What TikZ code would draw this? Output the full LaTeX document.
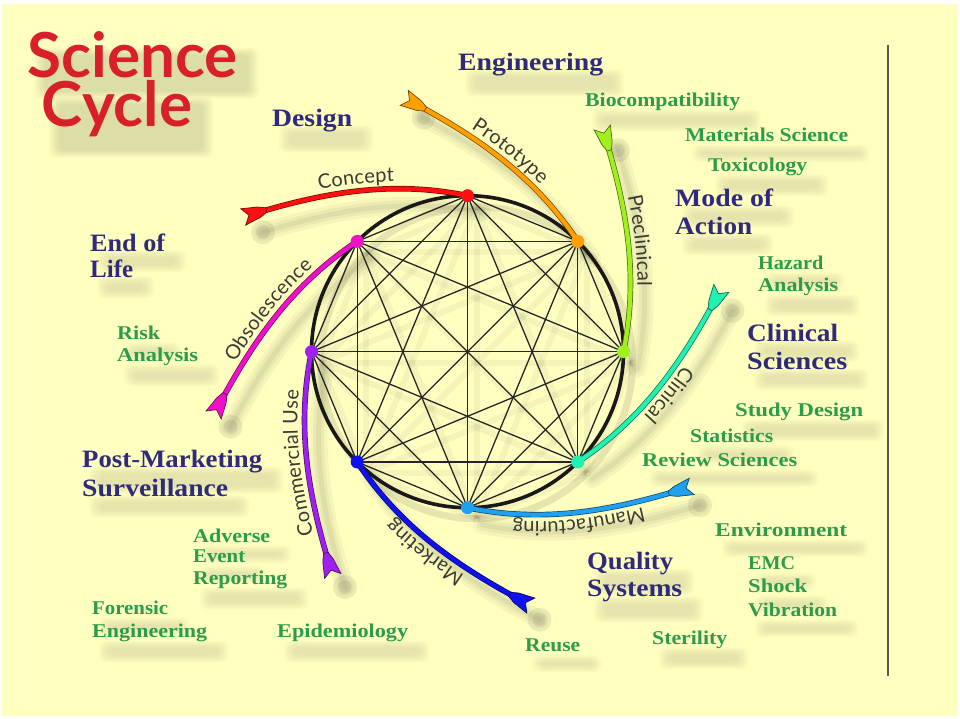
\documentclass[tikz,border=0pt]{standalone}
\usepackage{fontspec}
\usepackage{graphicx}
\usetikzlibrary{decorations.text,decorations.markings}
\setmainfont{Liberation Serif}
\newfontfamily\arcfamily{Lato}
\newfontfamily\headfamily{Lato}

\definecolor{paper}{HTML}{FFFFC0}
\definecolor{navyink}{HTML}{2F2A7C}
\definecolor{greenink}{HTML}{2C9C4A}
\definecolor{arcink}{HTML}{3A3A34}
\definecolor{smoke}{HTML}{4A4A3A}
\definecolor{titlered}{HTML}{D8202A}
\definecolor{rulegrey}{HTML}{5A5A50}
\definecolor{cred}{HTML}{FF1010}
\definecolor{corange}{HTML}{FFA000}
\definecolor{cgreen}{HTML}{A0F020}
\definecolor{cteal}{HTML}{20F0B0}
\definecolor{clight}{HTML}{20A0F0}
\definecolor{cblue}{HTML}{1010F0}
\definecolor{cpurple}{HTML}{A020F0}
\definecolor{cmagenta}{HTML}{F010C8}

\newcommand\arcfont{\arcfamily\fontsize{20}{20}\selectfont}

\pgfdeclarelayer{paperlayer}
\pgfdeclarelayer{shade}
\pgfdeclarelayer{wheel}
\pgfsetlayers{paperlayer,shade,wheel,main}

\tikzset{
  navylbl/.style={font=\bfseries\fontsize{25}{25}\selectfont, text=navyink, inner sep=0pt, anchor=base west},
  greenlbl/.style={font=\bfseries\fontsize{19.5}{19.5}\selectfont, text=greenink, inner sep=0pt, anchor=base west},
  titlelbl/.style={font=\headfamily\bfseries\fontsize{62}{62}\selectfont, text=titlered, inner sep=0pt, anchor=base},
  dotnode/.style={circle, inner sep=0pt, minimum size=13pt},
  chord/.style={line width=1.3pt, black!85},
  rim/.style={line width=3.6pt, black!90},
  tail/.style={postaction={decorate, decoration={markings, mark=at position 1 with {
    \fill[#1, draw=#1!45!black, line width=0.7pt]
      (-18,2.3) .. controls (-14,3.6) and (-11,5.8) .. (-7,6)
      -- (6,8.5) -- (0,0) -- (6,-8.5) -- (-7,-6)
      .. controls (-11,-5.8) and (-14,-3.6) .. (-18,-2.3) -- cycle;}}}},
  arclabel/.style={decorate, decoration={text along path, text={|\arcfont|#1},
    text align=center, raise=7pt, text color=arcink}},
}

% soft grey smudge below and right of a node
\newcommand\smudge[2]{% #1 node, #2 strength
  \begin{pgfonlayer}{shade}
    \foreach \g in {-3,-1,1,3,5,7}
      \fill[smoke, opacity=#2, rounded corners=7pt]
        ([shift={(14-\g,-15-0.7*\g)}]#1.south west) rectangle ([shift={(14+\g,-21+0.7*\g)}]#1.north east);
  \end{pgfonlayer}
}

% a label line; #3,#4 = left end and baseline (measured from the top)
\newcommand\shadowed[6]{%
  \node[#2] (#1) at (#3, 719-#4) {\resizebox{#5pt}{\height}{#6}};
  \smudge{#1}{0.022}
}

\begin{document}
\begin{tikzpicture}[x=1pt, y=1pt]
\useasboundingbox (0,0) rectangle (960,719);
\begin{pgfonlayer}{paperlayer}
  \fill[white] (0,0) rectangle (960,719);
  \fill[paper] (2,3) rectangle (958,715);
\end{pgfonlayer}

% right-hand rule
\draw[rulegrey, line width=1.4pt] (888,674) -- (888,43);

% title
\node[titlelbl] (science) at (132.5,641) {\resizebox{210pt}{\height}{Science}};
\node[titlelbl] (cycle) at (117,592) {\resizebox{150pt}{\height}{Cycle}};
\smudge{science}{0.03}
\smudge{cycle}{0.03}

% the eight stages on the wheel
\coordinate (hub) at (467.5,367.3);
\foreach \k/\a/\c in {1/90/cred,2/45/corange,3/0/cgreen,4/-45/cteal,5/-90/clight,6/-135/cblue,7/180/cpurple,8/135/cmagenta}{
  \begin{scope}[shift={(467.5,367.3)}, rotate=\a]
    \node[dotnode, fill=\c] (d\k) at (156,0) {};
    \coordinate (a\k) at (172,78);
    \coordinate (b\k) at (158.4,146.8);
    \coordinate (e\k) at (136.5,218.5);
  \end{scope}
}

% shadows of wheel and arms
\begin{pgfonlayer}{shade}
  \begin{scope}[transform canvas={shift={(9pt,-11pt)}}]
    \draw[smoke, opacity=0.14, line width=7pt] (hub) circle[radius=156pt];
    \foreach \i in {1,...,8}{\foreach \j in {1,...,8}{\ifnum\i<\j
      \draw[smoke, opacity=0.06, line width=6pt] (d\i.center) -- (d\j.center);\fi}}
  \end{scope}
  \foreach \k in {1,...,8}{
    \begin{scope}[transform canvas={shift={(14pt,-17pt)}}]
      \draw[smoke, opacity=0.05, line width=18pt, line cap=round] (d\k.center) .. controls (a\k) and (b\k) .. (e\k);
      \draw[smoke, opacity=0.06, line width=11pt, line cap=round] (d\k.center) .. controls (a\k) and (b\k) .. (e\k);
      \draw[smoke, opacity=0.07, line width=5pt, line cap=round] (d\k.center) .. controls (a\k) and (b\k) .. (e\k);
      \fill[smoke, opacity=0.10] (e\k) circle[radius=12pt];
      \fill[smoke, opacity=0.10] (e\k) circle[radius=7pt];
    \end{scope}
  }
\end{pgfonlayer}

% wheel: rim, all chords, coloured arms
\begin{pgfonlayer}{wheel}
  \draw[rim] (hub) circle[radius=156pt];
  \foreach \i in {1,...,8}{\foreach \j in {1,...,8}{\ifnum\i<\j
    \draw[chord] (d\i.center) -- (d\j.center);\fi}}
  \foreach \k/\c in {1/cred,2/corange,3/cgreen,4/cteal,5/clight,6/cblue,7/cpurple,8/cmagenta}{
    \draw[line width=5.6pt, \c!45!black] (d\k.center) .. controls (a\k) and (b\k) .. (e\k);
    \draw[line width=4.2pt, \c, tail=\c] (d\k.center) .. controls (a\k) and (b\k) .. (e\k);
  }
\end{pgfonlayer}

% arm labels
\path[arclabel=Concept] (e1) .. controls (b1) and (a1) .. (d1.center);
\path[arclabel=Prototype] (e2) .. controls (b2) and (a2) .. (d2.center);
\path[arclabel=Preclinical] (e3) .. controls (b3) and (a3) .. (d3.center);
\path[arclabel=Clinical] (e4) .. controls (b4) and (a4) .. (d4.center);
\path[arclabel=Manufacturing] (e5) .. controls (b5) and (a5) .. (d5.center);
\path[arclabel=Marketing] (e6) .. controls (b6) and (a6) .. (d6.center);
\path[arclabel=Commercial Use] (e7) .. controls (b7) and (a7) .. (d7.center);
\path[arclabel=Obsolescence] (e8) .. controls (b8) and (a8) .. (d8.center);

% stage headings
\shadowed{design}{navylbl}{272}{127}{80}{Design}
\shadowed{engineering}{navylbl}{458}{71}{145}{Engineering}
\shadowed{mode}{navylbl}{675}{207}{98}{Mode of}
\shadowed{action}{navylbl}{675}{235}{77}{Action}
\shadowed{endof}{navylbl}{90}{252}{75}{End of}
\shadowed{life}{navylbl}{90}{278}{43}{Life}
\shadowed{clinical}{navylbl}{747}{342}{91}{Clinical}
\shadowed{sciences}{navylbl}{747}{370}{100}{Sciences}
\shadowed{postmkt}{navylbl}{82}{468}{180}{Post-Marketing}
\shadowed{surv}{navylbl}{82}{497}{146}{Surveillance}
\shadowed{quality}{navylbl}{587}{570}{86}{Quality}
\shadowed{systems}{navylbl}{587}{597}{95}{Systems}

% disciplines
\shadowed{biocompat}{greenlbl}{585}{107}{155}{Biocompatibility}
\shadowed{materials}{greenlbl}{685}{142}{163}{Materials Science}
\shadowed{toxicology}{greenlbl}{708}{172}{99}{Toxicology}
\shadowed{hazard}{greenlbl}{758}{270}{65}{Hazard}
\shadowed{hazanalysis}{greenlbl}{758}{292}{80}{Analysis}
\shadowed{studydesign}{greenlbl}{735}{417}{128}{Study Design}
\shadowed{statistics}{greenlbl}{690}{443}{83}{Statistics}
\shadowed{review}{greenlbl}{642}{467}{155}{Review Sciences}
\shadowed{environment}{greenlbl}{715}{537}{132}{Environment}
\shadowed{emc}{greenlbl}{748}{570}{47}{EMC}
\shadowed{shock}{greenlbl}{748}{593}{59}{Shock}
\shadowed{vibration}{greenlbl}{748}{617}{89}{Vibration}
\shadowed{sterility}{greenlbl}{652}{645}{75}{Sterility}
\shadowed{reuse}{greenlbl}{525}{652}{55}{Reuse}
\shadowed{risk}{greenlbl}{117}{340}{43}{Risk}
\shadowed{riskanalysis}{greenlbl}{117}{362}{81}{Analysis}
\shadowed{adverse}{greenlbl}{193}{543}{77}{Adverse}
\shadowed{event}{greenlbl}{193}{563}{52}{Event}
\shadowed{reporting}{greenlbl}{193}{585}{94}{Reporting}
\shadowed{forensic}{greenlbl}{92}{615}{76}{Forensic}
\shadowed{foreng}{greenlbl}{92}{638}{115}{Engineering}
\shadowed{epidemiology}{greenlbl}{277}{638}{131}{Epidemiology}
\end{tikzpicture}
\end{document}
